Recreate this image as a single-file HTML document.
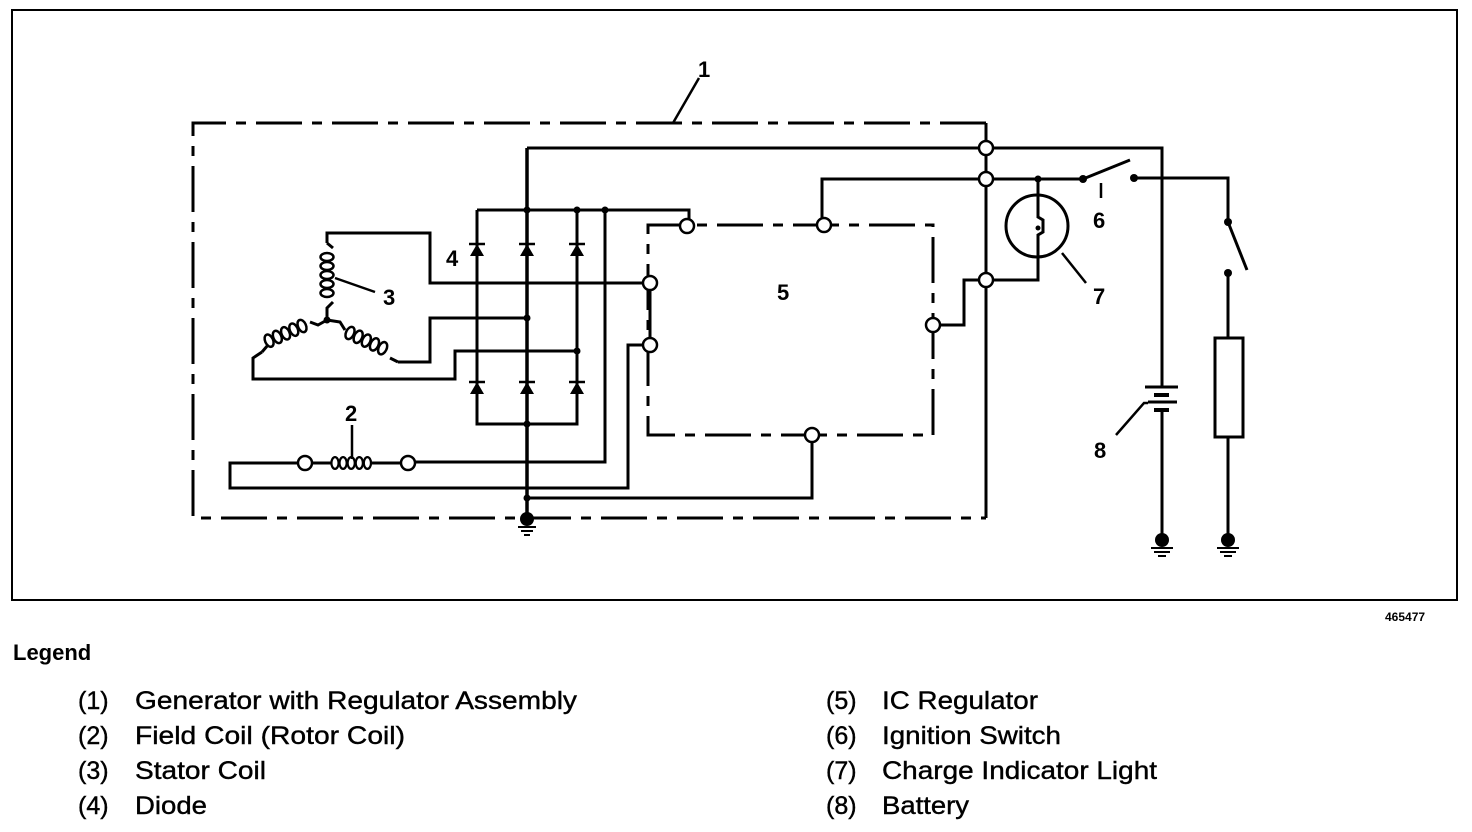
<!DOCTYPE html>
<html><head><meta charset="utf-8"><style>
html,body{margin:0;padding:0;background:#fff;}
svg{display:block;}
text{font-family:"Liberation Sans",Arial,sans-serif;fill:#000;}
</style></head><body>
<svg width="1472" height="832" viewBox="0 0 1472 832" xmlns="http://www.w3.org/2000/svg">
<defs>
<g id="d"><line x1="-8" y1="-6" x2="8" y2="-6" stroke="#000" stroke-width="2.5"/><polygon points="-7,6 7,6 0,-6" fill="#000"/></g>
<g id="coil" fill="none" stroke="#000" stroke-width="2.5">
<ellipse cx="0" cy="0" rx="4" ry="6.5"/><ellipse cx="9" cy="0" rx="4" ry="6.5"/><ellipse cx="18" cy="0" rx="4" ry="6.5"/><ellipse cx="27" cy="0" rx="4" ry="6.5"/><ellipse cx="36" cy="0" rx="4" ry="6.5"/>
</g>
</defs>
<rect x="12" y="10" width="1445" height="590" fill="none" stroke="#000" stroke-width="2"/>
<g fill="none" stroke="#000" stroke-width="3" stroke-linejoin="miter">
<path d="M986 123 H193 V518 H986" stroke-dasharray="46 10 10 10"/>
<line x1="986" y1="123" x2="986" y2="518"/>
<line x1="699" y1="78" x2="673" y2="123" stroke-width="2.5"/>
<path d="M648 232 V225 H933 V435 H648 Z" stroke-dasharray="46 10 10 10"/>
<line x1="650" y1="283" x2="650" y2="345"/>
<path d="M527 148 H1162 V387"/>
<path d="M1162 410 V540"/>
<path d="M822 225 V179 H1083"/>
<path d="M1083 179 L1130 160"/>
<line x1="1101" y1="183" x2="1101" y2="198" stroke-width="2.5"/>
<path d="M1134 178 H1228 V222"/>
<path d="M1228 222 L1247 270"/>
<path d="M1228 273 V338"/>
<rect x="1215" y="338" width="28" height="99"/>
<path d="M1228 437 V540"/>
<circle cx="1037" cy="226" r="31"/>
<path d="M1038 179 V217 L1043 220 V232 L1038 235 V280 H986"/>
<line x1="1062" y1="253" x2="1086" y2="283" stroke-width="2.5"/>
<path d="M938 325 H964 V280 H986"/>
<path d="M477 210 H689 V222"/>
<path d="M477 210 V424 H577 V210"/>
<line x1="527" y1="148" x2="527" y2="520" stroke-width="3.5"/>
<path d="M605 210 V462 H412"/>
<path d="M327 243 V233 H430 V283 H645"/>
<path d="M527 318 H430 V362 H398"/>
<path d="M577 351 H455 V379 H253 V358 L262 352"/>
<path d="M327 243 L333 248 M333 302 L327 308 V320"/>
<path d="M327 320 L318 325 L310 322 M268 345 L262 352"/>
<path d="M327 320 L340 322 L345 330 M390 358 L398 362"/>
<line x1="335" y1="278" x2="375" y2="292" stroke-width="2.5"/>
<path d="M298 463 H230 V488 H628 V345 H645"/>
<path d="M312 463 H332 M370 463 H401"/>
<line x1="352" y1="425" x2="352" y2="459" stroke-width="2.5"/>
<path d="M527 498 H812 V441"/>
<line x1="1145" y1="387" x2="1178" y2="387"/>
<line x1="1154" y1="395" x2="1169" y2="395" stroke-width="4"/>
<line x1="1148" y1="402" x2="1177" y2="402"/>
<line x1="1154" y1="410" x2="1169" y2="410" stroke-width="4"/>
<path d="M1116 435 L1144 403 H1148" stroke-width="2.5"/>
<g stroke-width="2">
<line x1="518" y1="527" x2="536" y2="527"/><line x1="521" y1="531" x2="533" y2="531"/><line x1="524" y1="535" x2="530" y2="535"/>
<line x1="1151" y1="548" x2="1173" y2="548"/><line x1="1154" y1="552" x2="1170" y2="552"/><line x1="1158" y1="556" x2="1166" y2="556"/>
<line x1="1217" y1="548" x2="1239" y2="548"/><line x1="1220" y1="552" x2="1236" y2="552"/><line x1="1224" y1="556" x2="1232" y2="556"/>
</g>
</g>
<use href="#coil" transform="translate(327,257) rotate(90)"/>
<use href="#coil" transform="translate(302,326) rotate(156) "/>
<use href="#coil" transform="translate(350,333) rotate(25)"/>
<use href="#coil" transform="translate(335,463) scale(0.9,0.9)"/>
<use href="#d" x="477" y="250"/><use href="#d" x="527" y="250"/><use href="#d" x="577" y="250"/>
<use href="#d" x="477" y="388"/><use href="#d" x="527" y="388"/><use href="#d" x="577" y="388"/>
<g fill="#000">
<circle cx="527" cy="210" r="3.5"/><circle cx="577" cy="210" r="3.5"/><circle cx="605" cy="210" r="3.5"/>
<circle cx="527" cy="318" r="3.5"/><circle cx="577" cy="351" r="3.5"/><circle cx="527" cy="424" r="3.5"/>
<circle cx="527" cy="498" r="3.5"/><circle cx="327" cy="320" r="3.5"/>
<circle cx="527" cy="519" r="7"/><circle cx="1162" cy="540" r="7"/><circle cx="1228" cy="540" r="7"/>
<circle cx="1038" cy="179" r="3.5"/><circle cx="1083" cy="179" r="4"/><circle cx="1134" cy="178" r="4"/>
<circle cx="1228" cy="222" r="4"/><circle cx="1228" cy="273" r="4"/><circle cx="1038" cy="228" r="2.5"/>
</g>
<g fill="#fff" stroke="#000" stroke-width="2.5">
<circle cx="986" cy="148" r="7"/><circle cx="986" cy="179" r="7"/><circle cx="986" cy="280" r="7"/>
<circle cx="687" cy="226" r="7"/><circle cx="824" cy="225" r="7"/><circle cx="650" cy="283" r="7"/>
<circle cx="650" cy="345" r="7"/><circle cx="933" cy="325" r="7"/><circle cx="812" cy="435" r="7"/>
<circle cx="305" cy="463" r="7"/><circle cx="408" cy="463" r="7"/>
</g>
<g font-weight="bold" font-size="22">
<text x="698" y="77">1</text>
<text x="345" y="421">2</text>
<text x="383" y="305">3</text>
<text x="446" y="266">4</text>
<text x="777" y="300">5</text>
<text x="1093" y="228">6</text>
<text x="1093" y="304">7</text>
<text x="1094" y="458">8</text>
</g>
<text x="1385" y="621" font-size="12" font-weight="bold">465477</text>
<text x="13" y="660" font-size="22" font-weight="bold">Legend</text>
<g font-size="25" stroke="#000" stroke-width="0.4">
<text x="78" y="709">(1)</text><text x="135" y="709" textLength="442" lengthAdjust="spacingAndGlyphs">Generator with Regulator Assembly</text>
<text x="78" y="744">(2)</text><text x="135" y="744" textLength="270" lengthAdjust="spacingAndGlyphs">Field Coil (Rotor Coil)</text>
<text x="78" y="779">(3)</text><text x="135" y="779" textLength="131" lengthAdjust="spacingAndGlyphs">Stator Coil</text>
<text x="78" y="814">(4)</text><text x="135" y="814" textLength="72" lengthAdjust="spacingAndGlyphs">Diode</text>
<text x="826" y="709">(5)</text><text x="882" y="709" textLength="156" lengthAdjust="spacingAndGlyphs">IC Regulator</text>
<text x="826" y="744">(6)</text><text x="882" y="744" textLength="179" lengthAdjust="spacingAndGlyphs">Ignition Switch</text>
<text x="826" y="779">(7)</text><text x="882" y="779" textLength="275" lengthAdjust="spacingAndGlyphs">Charge Indicator Light</text>
<text x="826" y="814">(8)</text><text x="882" y="814" textLength="87" lengthAdjust="spacingAndGlyphs">Battery</text>
</g>
</svg>
</body></html>
